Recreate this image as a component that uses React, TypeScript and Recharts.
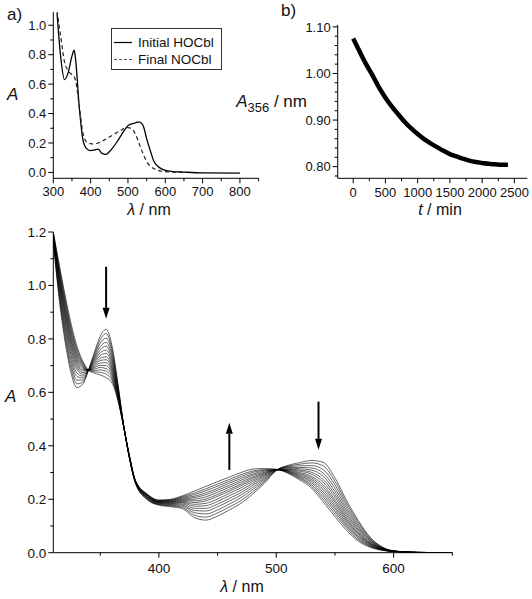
import React from 'react';
import { LineChart, Line, XAxis, YAxis, ReferenceLine } from 'recharts';

const FONT = '"Liberation Sans", Arial, Helvetica, sans-serif';

// ---------- a) initial vs final spectrum ----------
const aWavelength = [310, 320, 330, 340, 350, 356, 360, 370, 380, 390, 400, 410, 420, 430, 440, 450, 460, 470, 480, 490, 500, 510, 520, 530, 540, 550, 560, 570, 580, 590, 600, 620, 650, 700, 800];
const aInitialHOCbl = [1.08, 0.78, 0.63, 0.68, 0.79, 0.83, 0.76, 0.43, 0.215, 0.16, 0.148, 0.152, 0.158, 0.13, 0.122, 0.14, 0.17, 0.205, 0.245, 0.285, 0.318, 0.33, 0.336, 0.344, 0.322, 0.23, 0.147, 0.072, 0.042, 0.024, 0.014, 0.006, 0.002, -0.003, -0.005];
const aFinalNOCbl = [1.1, 0.92, 0.75, 0.69, 0.665, 0.65, 0.62, 0.44, 0.26, 0.205, 0.195, 0.193, 0.2, 0.21, 0.225, 0.24, 0.255, 0.27, 0.285, 0.3, 0.305, 0.298, 0.26, 0.195, 0.13, 0.075, 0.042, 0.025, 0.015, 0.008, 0.005, 0.002, 0, null, null];
const aXTicks = [300, 350, 400, 450, 500, 550, 600, 650, 700, 750, 800, 850];
const aXMajor = [300, 400, 500, 600, 700, 800];
const aYTicks = [0, 0.1, 0.2, 0.3, 0.4, 0.5, 0.6, 0.7, 0.8, 0.9, 1.0];
const aYMajor = [0, 0.2, 0.4, 0.6, 0.8, 1.0];

// ---------- b) A356 vs time ----------
const bTime = [0, 100, 200, 300, 400, 500, 600, 700, 800, 900, 1000, 1100, 1200, 1300, 1400, 1500, 1600, 1700, 1800, 1900, 2000, 2100, 2200, 2300, 2400];
const bA356 = [1.075, 1.047, 1.02, 0.996, 0.97, 0.948, 0.929, 0.912, 0.896, 0.882, 0.87, 0.859, 0.85, 0.842, 0.834, 0.827, 0.822, 0.817, 0.813, 0.81, 0.808, 0.806, 0.805, 0.804, 0.804];
const bXTicks = [0, 250, 500, 750, 1000, 1250, 1500, 1750, 2000, 2250, 2500];
const bXMajor = [0, 500, 1000, 1500, 2000, 2500];
const bYTicks = [0.78, 0.8, 0.82, 0.84, 0.86, 0.88, 0.9, 0.92, 0.94, 0.96, 0.98, 1.0, 1.02, 1.04, 1.06, 1.08, 1.1];
const bYMajor = [0.8, 0.9, 1.0, 1.1];

// ---------- c) spectral scans during the reaction ----------
const cWavelength = [310, 315, 320, 325, 330, 335, 340, 345, 350, 355, 360, 365, 370, 375, 380, 390, 400, 410, 420, 430, 440, 450, 460, 470, 480, 490, 500, 510, 520, 530, 540, 550, 560, 570, 580, 590, 600, 620, 650];
const scan01 = [1.16, 0.95, 0.79, 0.675, 0.618, 0.63, 0.683, 0.75, 0.81, 0.836, 0.775, 0.635, 0.475, 0.35, 0.26, 0.198, 0.178, 0.172, 0.165, 0.132, 0.122, 0.137, 0.16, 0.185, 0.22, 0.26, 0.308, 0.327, 0.337, 0.345, 0.338, 0.28, 0.195, 0.12, 0.058, 0.022, 0.007, 0.001, 0];
const scan02 = [1.164, 0.962, 0.806, 0.692, 0.632, 0.638, 0.683, 0.743, 0.797, 0.82, 0.762, 0.629, 0.475, 0.351, 0.261, 0.2, 0.18, 0.175, 0.169, 0.141, 0.133, 0.149, 0.171, 0.195, 0.228, 0.265, 0.308, 0.324, 0.331, 0.336, 0.325, 0.267, 0.185, 0.113, 0.055, 0.021, 0.007, 0.001, 0];
const scan03 = [1.167, 0.973, 0.822, 0.708, 0.646, 0.646, 0.683, 0.736, 0.784, 0.803, 0.75, 0.623, 0.474, 0.352, 0.262, 0.202, 0.181, 0.177, 0.174, 0.15, 0.145, 0.16, 0.182, 0.206, 0.237, 0.27, 0.309, 0.322, 0.325, 0.326, 0.311, 0.254, 0.175, 0.106, 0.051, 0.02, 0.006, 0.001, 0];
const scan04 = [1.171, 0.985, 0.837, 0.725, 0.66, 0.654, 0.683, 0.729, 0.771, 0.787, 0.737, 0.617, 0.474, 0.353, 0.263, 0.204, 0.183, 0.18, 0.178, 0.158, 0.156, 0.172, 0.193, 0.216, 0.245, 0.275, 0.309, 0.319, 0.319, 0.317, 0.298, 0.241, 0.165, 0.099, 0.048, 0.018, 0.006, 0.001, 0];
const scan05 = [1.174, 0.996, 0.851, 0.74, 0.673, 0.661, 0.683, 0.723, 0.759, 0.773, 0.726, 0.612, 0.473, 0.354, 0.264, 0.206, 0.185, 0.182, 0.182, 0.166, 0.166, 0.182, 0.203, 0.225, 0.253, 0.279, 0.309, 0.317, 0.314, 0.309, 0.286, 0.229, 0.156, 0.093, 0.045, 0.017, 0.006, 0.001, 0];
const scan06 = [1.177, 1.006, 0.865, 0.755, 0.686, 0.668, 0.683, 0.716, 0.748, 0.758, 0.715, 0.607, 0.473, 0.354, 0.264, 0.207, 0.186, 0.184, 0.186, 0.174, 0.176, 0.192, 0.213, 0.234, 0.26, 0.284, 0.31, 0.314, 0.309, 0.301, 0.274, 0.218, 0.147, 0.087, 0.042, 0.016, 0.006, 0.001, 0];
const scan07 = [1.18, 1.015, 0.878, 0.768, 0.697, 0.674, 0.683, 0.711, 0.738, 0.746, 0.705, 0.603, 0.473, 0.355, 0.265, 0.209, 0.188, 0.186, 0.189, 0.181, 0.185, 0.201, 0.222, 0.243, 0.267, 0.288, 0.31, 0.312, 0.305, 0.294, 0.264, 0.208, 0.139, 0.082, 0.039, 0.016, 0.006, 0.001, 0];
const scan08 = [1.183, 1.024, 0.89, 0.78, 0.707, 0.68, 0.683, 0.706, 0.727, 0.733, 0.695, 0.598, 0.472, 0.356, 0.266, 0.211, 0.189, 0.188, 0.192, 0.188, 0.194, 0.211, 0.23, 0.251, 0.273, 0.291, 0.31, 0.31, 0.3, 0.286, 0.254, 0.197, 0.131, 0.076, 0.036, 0.015, 0.005, 0.001, 0];
const scan09 = [1.185, 1.032, 0.9, 0.792, 0.717, 0.685, 0.683, 0.701, 0.719, 0.722, 0.687, 0.594, 0.472, 0.356, 0.266, 0.212, 0.19, 0.19, 0.195, 0.194, 0.201, 0.218, 0.237, 0.257, 0.279, 0.295, 0.311, 0.308, 0.296, 0.28, 0.245, 0.189, 0.124, 0.071, 0.034, 0.014, 0.005, 0.001, 0];
const scan10 = [1.188, 1.04, 0.911, 0.803, 0.726, 0.691, 0.683, 0.696, 0.71, 0.711, 0.678, 0.59, 0.472, 0.357, 0.267, 0.213, 0.191, 0.191, 0.198, 0.2, 0.209, 0.226, 0.245, 0.264, 0.284, 0.298, 0.311, 0.306, 0.292, 0.274, 0.236, 0.18, 0.118, 0.067, 0.032, 0.013, 0.005, 0.001, 0];
const scan11 = [1.19, 1.048, 0.921, 0.814, 0.736, 0.696, 0.683, 0.692, 0.701, 0.7, 0.67, 0.586, 0.471, 0.358, 0.268, 0.215, 0.192, 0.193, 0.201, 0.206, 0.217, 0.234, 0.252, 0.271, 0.29, 0.301, 0.311, 0.305, 0.288, 0.268, 0.227, 0.171, 0.111, 0.062, 0.03, 0.012, 0.005, 0.001, 0];
const scan12 = [1.192, 1.055, 0.932, 0.825, 0.745, 0.701, 0.683, 0.687, 0.693, 0.689, 0.662, 0.582, 0.471, 0.358, 0.268, 0.216, 0.193, 0.195, 0.204, 0.211, 0.224, 0.241, 0.26, 0.278, 0.295, 0.305, 0.311, 0.303, 0.284, 0.262, 0.218, 0.163, 0.104, 0.058, 0.027, 0.011, 0.005, 0.001, 0];
const scan13 = [1.195, 1.063, 0.942, 0.836, 0.755, 0.707, 0.683, 0.682, 0.684, 0.679, 0.653, 0.578, 0.471, 0.359, 0.269, 0.217, 0.195, 0.196, 0.207, 0.217, 0.232, 0.249, 0.267, 0.285, 0.301, 0.308, 0.311, 0.301, 0.28, 0.255, 0.209, 0.154, 0.098, 0.053, 0.025, 0.011, 0.004, 0.001, 0];
const scan14 = [1.197, 1.071, 0.953, 0.847, 0.764, 0.712, 0.683, 0.677, 0.675, 0.668, 0.645, 0.575, 0.47, 0.359, 0.269, 0.218, 0.196, 0.198, 0.21, 0.223, 0.239, 0.257, 0.274, 0.292, 0.306, 0.311, 0.312, 0.299, 0.277, 0.249, 0.2, 0.145, 0.091, 0.048, 0.023, 0.01, 0.004, 0.001, 0];
const scan15 = [1.2, 1.08, 0.965, 0.86, 0.775, 0.718, 0.683, 0.672, 0.665, 0.655, 0.635, 0.57, 0.47, 0.36, 0.27, 0.22, 0.197, 0.2, 0.213, 0.23, 0.248, 0.266, 0.283, 0.3, 0.313, 0.315, 0.312, 0.297, 0.272, 0.242, 0.19, 0.135, 0.083, 0.043, 0.02, 0.009, 0.004, 0.001, 0];
const cScans = [scan01, scan02, scan03, scan04, scan05, scan06, scan07, scan08, scan09, scan10, scan11, scan12, scan13, scan14, scan15];
const cXTicks = [350, 400, 450, 500, 550, 600, 650];
const cXMajor = [400, 500, 600];
const cYTicks = [0, 0.1, 0.2, 0.3, 0.4, 0.5, 0.6, 0.7, 0.8, 0.9, 1.0, 1.1, 1.2];
const cYMajor = [0, 0.2, 0.4, 0.6, 0.8, 1.0, 1.2];
// arrows: wavelength, start absorbance, tip absorbance
const cArrows = [
  { wl: 355, from: 1.07, to: 0.875 },
  { wl: 460, from: 0.31, to: 0.486 },
  { wl: 536, from: 0.565, to: 0.385 },
];

const aRows = aWavelength.map((wl, i) => ({ wl, initial: aInitialHOCbl[i], final: aFinalNOCbl[i] }));
const bRows = bTime.map((t, i) => ({ t, a: bA356[i] }));
const cRows = cWavelength.map((wl, i) => {
  const row: any = { wl };
  cScans.forEach((s, k) => { row[`s${k}`] = s[i]; });
  return row;
});

const isMajor = (v: number, list: number[]) => list.some((m) => Math.abs(m - v) < 1e-6);

// origin-style ticks: long major with label, short minor without
const makeTick = (side: 'bottom' | 'left', major: number[], fmt: (v: number) => string, size: number, gap: number) =>
  (props: any) => {
    const { x, y, payload } = props;
    const v = payload.value as number;
    const big = isMajor(v, major);
    const len = big ? 5 : 3;
    if (side === 'bottom') {
      return (
        <g>
          <line x1={x} y1={y} x2={x} y2={y + len} stroke="#000" strokeWidth={1} />
          {big && (
            <text x={x} y={y + gap} textAnchor="middle" fontSize={size} fontFamily={FONT} fill="#111">
              {fmt(v)}
            </text>
          )}
        </g>
      );
    }
    return (
      <g>
        <line x1={x - len} y1={y} x2={x} y2={y} stroke="#000" strokeWidth={1} />
        {big && (
          <text x={x - gap} y={y} dy="0.36em" textAnchor="end" fontSize={size} fontFamily={FONT} fill="#111">
            {fmt(v)}
          </text>
        )}
      </g>
    );
  };

const ArrowShape = (props: any) => {
  const { x1, y1, x2, y2 } = props;
  const dir = y2 > y1 ? 1 : -1;
  const head = 11;
  const half = 3.5;
  return (
    <g>
      <line x1={x1} y1={y1} x2={x2} y2={y2 - dir * head} stroke="#000" strokeWidth={2} />
      <polygon points={`${x2},${y2} ${x2 - half},${y2 - dir * head} ${x2 + half},${y2 - dir * head}`} fill="#000" />
    </g>
  );
};

const axisLine = { stroke: '#000', strokeWidth: 1 };
const fmt1 = (v: number) => v.toFixed(1);
const fmt2 = (v: number) => v.toFixed(2);
const fmt0 = (v: number) => String(v);

const App: React.FC = () => {
  return (
    <div style={{ position: 'absolute', left: 0, top: 0, width: 532, height: 599, background: '#fff', fontFamily: FONT }}>
      {/* a) */}
      <div style={{ position: 'absolute', left: 0, top: 0 }}>
        <LineChart width={266} height={230} data={aRows} margin={{ top: 12, right: 7.4, bottom: 21.7, left: 8.3 }}>
          <XAxis
            type="number"
            dataKey="wl"
            domain={[300, 850]}
            ticks={aXTicks}
            interval={0}
            height={30}
            tickSize={0}
            tickMargin={0}
            tickLine={false}
            axisLine={axisLine}
            allowDataOverflow
            tick={makeTick('bottom', aXMajor, fmt0, 13, 18)}
          />
          <YAxis
            type="number"
            domain={[-0.04, 1.09]}
            ticks={aYTicks}
            interval={0}
            width={45}
            tickSize={0}
            tickMargin={0}
            tickLine={false}
            axisLine={axisLine}
            allowDataOverflow
            tick={makeTick('left', aYMajor, fmt1, 13, 7)}
          />
          <Line type="monotone" dataKey="initial" stroke="#000" strokeWidth={1.3} dot={false} isAnimationActive={false} />
          <Line type="monotone" dataKey="final" stroke="#222" strokeWidth={1.2} strokeDasharray="4 3" dot={false} isAnimationActive={false} />
        </LineChart>
      </div>

      {/* b) */}
      <div style={{ position: 'absolute', left: 266, top: 0 }}>
        <LineChart width={266} height={230} data={bRows} margin={{ top: 25, right: 4.7, bottom: 21.7, left: 21.7 }}>
          <XAxis
            type="number"
            dataKey="t"
            domain={[-240, 2700]}
            ticks={bXTicks}
            interval={0}
            height={30}
            tickSize={0}
            tickMargin={0}
            tickLine={false}
            axisLine={axisLine}
            allowDataOverflow
            tick={makeTick('bottom', bXMajor, fmt0, 13, 18.5)}
          />
          <YAxis
            type="number"
            domain={[0.775, 1.104]}
            ticks={bYTicks}
            interval={0}
            width={50}
            tickSize={0}
            tickMargin={0}
            tickLine={false}
            axisLine={axisLine}
            allowDataOverflow
            tick={makeTick('left', bYMajor, fmt2, 13, 7)}
          />
          <Line type="monotone" dataKey="a" stroke="#000" strokeWidth={4.5} dot={false} isAnimationActive={false} />
        </LineChart>
      </div>

      {/* c) */}
      <div style={{ position: 'absolute', left: 0, top: 225 }}>
        <LineChart width={532} height={374} data={cRows} margin={{ top: 7, right: 79.7, bottom: 16.3, left: 8.3 }}>
          <XAxis
            type="number"
            dataKey="wl"
            domain={[310, 650]}
            ticks={cXTicks}
            interval={0}
            height={30}
            tickSize={0}
            tickMargin={0}
            tickLine={false}
            axisLine={axisLine}
            allowDataOverflow
            tick={makeTick('bottom', cXMajor, fmt0, 13.5, 20.5)}
          />
          <YAxis
            type="number"
            domain={[0, 1.2]}
            ticks={cYTicks}
            interval={0}
            width={45}
            tickSize={0}
            tickMargin={0}
            tickLine={false}
            axisLine={axisLine}
            allowDataOverflow
            tick={makeTick('left', cYMajor, fmt1, 13.5, 7)}
          />
          {cScans.map((_, k) => (
            <Line
              key={k}
              type="monotone"
              dataKey={`s${k}`}
              stroke="#000"
              strokeWidth={0.6}
              dot={false}
              isAnimationActive={false}
            />
          ))}
          {cArrows.map((a, i) => (
            <ReferenceLine
              key={i}
              segment={[{ x: a.wl, y: a.from }, { x: a.wl, y: a.to }]}
              shape={ArrowShape}
              ifOverflow="visible"
            />
          ))}
        </LineChart>
      </div>

      {/* panel labels, axis titles, legend */}
      <svg width={532} height={599} style={{ position: 'absolute', left: 0, top: 0, pointerEvents: 'none' }} fontFamily={FONT} fill="#111">
        <text x={7} y={20} fontSize={17}>a)</text>
        <text x={281} y={16} fontSize={17}>b)</text>

        <text x={7} y={100} fontSize={17} fontStyle="italic">A</text>
        <text x={149} y={215} fontSize={16} textAnchor="middle">
          <tspan fontStyle="italic">λ</tspan> / nm
        </text>

        <text x={307} y={106.5} fontSize={17} textAnchor="end">
          <tspan fontStyle="italic">A</tspan>
          <tspan fontSize={13} dy={5.5}>356</tspan>
          <tspan dy={-5.5}> / nm</tspan>
        </text>
        <text x={440} y={215} fontSize={16} textAnchor="middle">
          <tspan fontStyle="italic">t</tspan> / min
        </text>

        <text x={5} y={402} fontSize={17} fontStyle="italic">A</text>
        <text x={242} y={592} fontSize={16} textAnchor="middle">
          <tspan fontStyle="italic">λ</tspan> / nm
        </text>

        <rect x={111.5} y={28.5} width={110} height={41} fill="none" stroke="#333" strokeWidth={1} />
        <line x1={114} x2={132} y1={42.5} y2={42.5} stroke="#000" strokeWidth={1.2} />
        <text x={138} y={47} fontSize={13.5}>Initial HOCbl</text>
        <line x1={114} x2={132} y1={59.5} y2={59.5} stroke="#555" strokeWidth={1} strokeDasharray="3 2" />
        <text x={138} y={64} fontSize={13.5}>Final NOCbl</text>
      </svg>
    </div>
  );
};

export default App;
